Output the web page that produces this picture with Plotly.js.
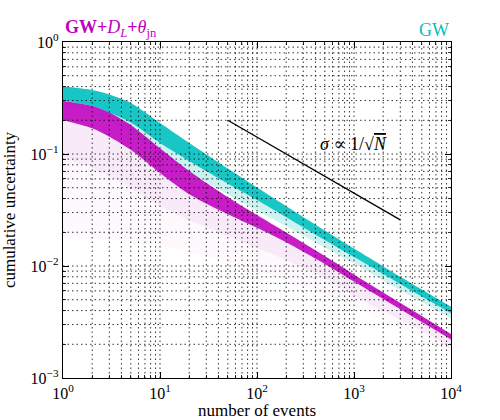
<!DOCTYPE html>
<html>
<head>
<meta charset="utf-8">
<script src="https://cdn.plot.ly/plotly-3.0.1.min.js"></script>
<style>
  html, body { margin: 0; padding: 0; background: #fff; }
  #chart { width: 500px; height: 420px; }
</style>
</head>
<body>
<div id="chart"></div>
<script>
// Number of combined events
const nEvents = [1, 2, 3, 5, 10, 20, 50, 100, 200, 500, 1000, 2000, 5000, 10000];

// GW only: envelope of the realisations (upper edge, dense lower edge, faint lower edge)
const gwUpper    = [0.4006, 0.3728, 0.3398, 0.2853, 0.1891, 0.1254, 0.0742, 0.0502, 0.0342, 0.02075, 0.0143, 0.00992, 0.00616, 0.00432];
const gwDenseLow = [0.3004, 0.2683, 0.2347, 0.1911, 0.1254, 0.0866, 0.0545, 0.0388, 0.02727, 0.01707, 0.01201, 0.0085, 0.00533, 0.00378];
const gwFaintLow = [0.2767, 0.2323, 0.1951, 0.154, 0.1, 0.0691, 0.0435, 0.0313, 0.02266, 0.01463, 0.01051, 0.00744, 0.00476, 0.00341];

// GW + D_L + theta_jn: envelope of the realisations
const jointUpper    = [0.2973, 0.2683, 0.2347, 0.1818, 0.1126, 0.0704, 0.0412, 0.02853, 0.01991, 0.01228, 0.0084, 0.0058, 0.00358, 0.00247];
const jointDenseLow = [0.2012, 0.1695, 0.1429, 0.1092, 0.0678, 0.0438, 0.0290, 0.02196, 0.01630, 0.01044, 0.00728, 0.00508, 0.00316, 0.00221];
const jointFaintLow = [0.0921, 0.075, 0.0636, 0.0497, 0.0343, 0.02575, 0.01853, 0.01448, 0.01131, 0.00781, 0.0054, 0.00396, 0.00263, 0.00185];
const jointTailLow  = [0.01778, 0.01742, 0.01707, 0.01638, 0.01509, 0.01334, 0.01086, 0.00921, 0.0075, 0.00551, 0.0043, 0.0033, 0.00232, 0.00171];

// Reference scaling sigma ~ 1/sqrt(N)
const refN = [50, 3000];
const refSigma = [0.2, 0.0258];

// Axis ticks
const xTickVals = [1, 10, 100, 1000, 10000];
const xTickText = ['10<sup>0</sup>', '10<sup>1</sup>', '10<sup>2</sup>', '10<sup>3</sup>', '10<sup>4</sup>'];
const yTickVals = [0.001, 0.01, 0.1, 1];
const yTickText = ['10<sup>\u22123</sup>', '10<sup>\u22122</sup>', '10<sup>\u22121</sup>', '10<sup>0</sup>'];

const TEAL = 'rgb(0,191,191)';
const MAGENTA = 'rgb(191,0,191)';
const SERIF = '"Liberation Serif", "DejaVu Serif", serif';

function band(upper, lower, fillcolor) {
  return [
    { x: nEvents, y: upper, type: 'scatter', mode: 'lines',
      line: { width: 0, shape: 'spline', smoothing: 0.8 }, hoverinfo: 'skip', showlegend: false },
    { x: nEvents, y: lower, type: 'scatter', mode: 'lines', fill: 'tonexty',
      fillcolor: fillcolor, line: { width: 0, shape: 'spline', smoothing: 0.8 },
      hoverinfo: 'skip', showlegend: false }
  ];
}

const traces = [].concat(
  band(gwUpper, gwFaintLow, 'rgba(0,191,191,0.20)'),
  band(gwUpper, gwDenseLow, 'rgba(0,191,191,0.88)'),
  band(jointUpper, jointTailLow, 'rgba(191,0,191,0.025)'),
  band(jointUpper, jointFaintLow, 'rgba(191,0,191,0.06)'),
  band(jointUpper, jointDenseLow, 'rgba(191,0,191,0.88)'),
  [{ x: refN, y: refSigma, type: 'scatter', mode: 'lines',
     line: { color: 'black', width: 1.3 }, hoverinfo: 'skip', showlegend: false }]
);

// Sub-decade positions (2..9 within each decade) for minor ticks and grid
function subDecades(fromExp, toExp) {
  const out = [];
  for (let d = fromExp; d < toExp; d++) {
    for (let k = 2; k <= 9; k++) out.push(k * Math.pow(10, d));
  }
  return out;
}
const xMinor = subDecades(0, 4);
const yMinor = subDecades(-3, 0);

// Dotted grid on every decade and sub-decade, drawn over the curves
const gridStyle = { color: 'black', width: 0.8, dash: '1.5px,3px' };
const gridShapes = [];
xMinor.concat(xTickVals.slice(1, -1)).forEach(function (v) {
  gridShapes.push({ type: 'line', layer: 'above', xref: 'x', yref: 'paper',
    x0: v, x1: v, y0: 0, y1: 1, line: gridStyle });
});
yMinor.concat(yTickVals.slice(1, -1)).forEach(function (v) {
  gridShapes.push({ type: 'line', layer: 'above', xref: 'paper', yref: 'y',
    x0: 0, x1: 1, y0: v, y1: v, line: gridStyle });
});

const axisCommon = {
  type: 'log',
  showgrid: false,
  zeroline: false,
  showline: true,
  linecolor: 'black',
  linewidth: 1.3,
  mirror: 'ticks',
  ticks: 'inside',
  ticklen: 6,
  tickwidth: 1,
  tickcolor: 'black',
  tickfont: { family: SERIF, size: 16, color: 'black' },
  layer: 'above traces'
};

const layout = {
  width: 500,
  height: 420,
  margin: { l: 63, r: 49, t: 42, b: 42 },
  paper_bgcolor: 'white',
  plot_bgcolor: 'white',
  showlegend: false,
  hovermode: false,
  xaxis: Object.assign({}, axisCommon, {
    range: [0, 4],
    tickvals: xTickVals, ticktext: xTickText,
    minor: { tickmode: 'array', tickvals: xMinor, ticks: 'inside', ticklen: 3, tickwidth: 0.8, tickcolor: 'black', showgrid: false },
    title: { text: 'number of events', font: { family: SERIF, size: 17, color: 'black' }, standoff: 7 }
  }),
  yaxis: Object.assign({}, axisCommon, {
    range: [-3, 0],
    tickvals: yTickVals, ticktext: yTickText,
    minor: { tickmode: 'array', tickvals: yMinor, ticks: 'inside', ticklen: 3, tickwidth: 0.8, tickcolor: 'black', showgrid: false },
    title: { text: 'cumulative uncertainty', font: { family: SERIF, size: 17, color: 'black' }, standoff: 10 }
  }),
  shapes: gridShapes,
  annotations: [
    { xref: 'paper', yref: 'paper', x: 0, y: 1, xanchor: 'left', yanchor: 'bottom', yshift: 0,
      showarrow: false, font: { family: SERIF, size: 18, color: MAGENTA },
      text: '<b>GW+</b><i>D</i><sub><i>L</i></sub><b>+</b><i>θ</i><sub>jn</sub>' },
    { xref: 'paper', yref: 'paper', x: 1, y: 1, xanchor: 'right', yanchor: 'bottom', yshift: 0,
      showarrow: false, font: { family: SERIF, size: 18, color: TEAL },
      text: 'GW' },
    { xref: 'paper', yref: 'paper', x: 0.748, y: 0.697, xanchor: 'center', yanchor: 'middle',
      showarrow: false, font: { family: SERIF, size: 18, color: 'black' },
      text: '<i>σ</i> ∝ 1/√<span style="text-decoration:overline"><i>N</i></span>' }
  ]
};

Plotly.newPlot('chart', traces, layout, { staticPlot: true, displayModeBar: false });
</script>
</body>
</html>
